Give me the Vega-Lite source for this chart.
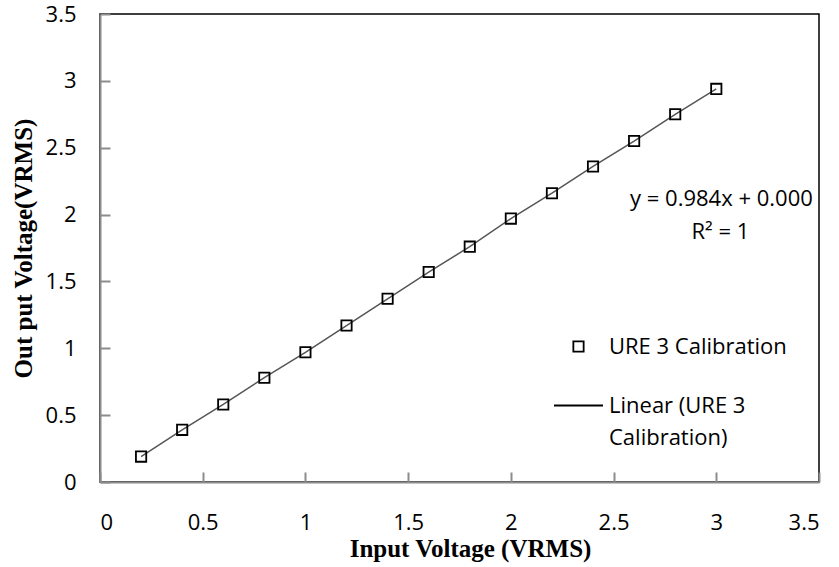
{
  "$schema": "https://vega.github.io/schema/vega-lite/v6.json",
  "width": 719,
  "height": 468,
  "autosize": {"type": "none"},
  "padding": {"left": 100, "top": 14, "right": 20, "bottom": 85},
  "background": "white",
  "config": {
    "view": {"stroke": "#000", "strokeWidth": 1.5},
    "font": "Open Sans",
    "style": {"guide-label": {"lineHeight": 32}},
    "axis": {
      "grid": false,
      "domainColor": "#8c8c8c",
      "domainWidth": 2,
      "tickColor": "#8c8c8c",
      "tickWidth": 2,
      "tickSize": -10,
      "labelFont": "Open Sans",
      "labelFontSize": 22,
      "labelColor": "#000",
      "titleFont": "Liberation Serif",
      "titleFontSize": 25,
      "titleFontWeight": "bold",
      "titleColor": "#000"
    }
  },
  "datasets": {
    "cal": [
      {"input": 0.2, "output": 0.19},
      {"input": 0.4, "output": 0.39},
      {"input": 0.6, "output": 0.58},
      {"input": 0.8, "output": 0.78},
      {"input": 1.0, "output": 0.97},
      {"input": 1.2, "output": 1.17},
      {"input": 1.4, "output": 1.37},
      {"input": 1.6, "output": 1.57},
      {"input": 1.8, "output": 1.76},
      {"input": 2.0, "output": 1.97},
      {"input": 2.2, "output": 2.16},
      {"input": 2.4, "output": 2.36},
      {"input": 2.6, "output": 2.55},
      {"input": 2.8, "output": 2.75},
      {"input": 3.0, "output": 2.94}
    ],
    "eq": [
      {"input": 3.025, "output": 2.117, "label": "y = 0.984x + 0.000"},
      {"input": 3.02, "output": 1.87, "label": "R² = 1"}
    ]
  },
  "layer": [
    {
      "data": {"name": "cal"},
      "mark": {"type": "line", "color": "#555", "strokeWidth": 1.5},
      "encoding": {
        "x": {
          "field": "input", "type": "quantitative",
          "scale": {"domain": [0, 3.5], "nice": false},
          "axis": {
            "values": [0, 0.5, 1, 1.5, 2, 2.5, 3, 3.5],
            "format": "~g",
            "labelPadding": 40,
            "title": "Input Voltage (VRMS)",
            "titlePadding": 3,
            "titleX": 370
          }
        },
        "y": {
          "field": "output", "type": "quantitative",
          "scale": {"domain": [0, 3.5], "nice": false},
          "axis": {
            "values": [0, 0.5, 1, 1.5, 2, 2.5, 3, 3.5],
            "format": "~g",
            "labelPadding": 34,
            "title": "Out put Voltage(VRMS)",
            "titlePadding": 9
          }
        }
      }
    },
    {
      "data": {"name": "cal"},
      "mark": {"type": "point", "filled": false, "stroke": "#000", "strokeWidth": 1.8, "size": 2401, "opacity": 1},
      "encoding": {
        "x": {"field": "input", "type": "quantitative"},
        "y": {"field": "output", "type": "quantitative"},
        "shape": {
          "datum": "URE 3 Calibration",
          "scale": {"domain": ["URE 3 Calibration", "Linear (URE 3 Calibration)"], "range": ["M-0.21,-0.21H0.21V0.21H-0.21Z", "stroke"]},
          "legend": {
            "title": null,
            "orient": "none",
            "legendX": 453,
            "legendY": 307,
            "padding": 0,
            "symbolSize": 2401,
            "symbolStrokeWidth": 1.8,
            "symbolStrokeColor": "#000",
            "symbolFillColor": "transparent",
            "labelFont": "Open Sans",
            "labelFontSize": 22,
            "labelColor": "#000",
            "labelOffset": 5,
            "labelLimit": 400,
            "rowPadding": 22,
            "labelExpr": "datum.label == 'Linear (URE 3 Calibration)' ? ['Linear (URE 3', 'Calibration)'] : datum.label"
          }
        }
      }
    },
    {
      "data": {"name": "eq"},
      "mark": {"type": "text", "font": "Open Sans", "fontSize": 22, "color": "#000", "align": "center", "baseline": "middle"},
      "encoding": {
        "x": {"field": "input", "type": "quantitative"},
        "y": {"field": "output", "type": "quantitative"},
        "text": {"field": "label", "type": "nominal"}
      }
    }
  ]
}
